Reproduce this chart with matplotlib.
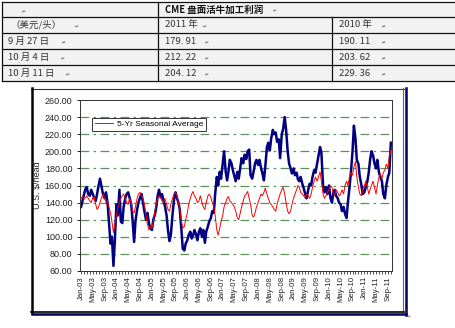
import matplotlib
matplotlib.use("Agg")
import matplotlib.pyplot as plt
import matplotlib.dates as mdates
import pandas as pd

# table contents
col_head = "CME 盘面活牛加工利润"
row_labels = ["（美元/头）", "9 月 27 日", "10 月 4 日", "10 月 11 日"]
col_2011 = ["2011 年", "179. 91", "212. 22", "204. 12"]
col_2010 = ["2010 年", "190. 11", "203. 62", "229. 36"]

# chart: semi-monthly profit values, Jan-03 .. Oct-11 (US $/head)
profit = [
    135, 142, 150, 156, 158, 150, 148, 155, 150, 146, 142, 150, 160, 168, 158, 150, 145, 152, 140, 118, 92, 100, 66, 95,
    138, 125, 155, 118, 116, 135, 145, 150, 152, 146, 138, 120, 94, 118, 132, 140, 146, 150, 140, 130, 120, 128, 116, 110,
    108, 120, 126, 135, 148, 155, 146, 150, 142, 136, 125, 108, 95, 102, 126, 142, 152, 146, 140, 132, 108, 86, 84, 92,
    96, 102, 106, 98, 101, 108, 103, 96, 106, 110, 100, 108, 93, 106, 112, 118, 122, 130, 128, 150, 170, 160, 176, 168,
    186, 200, 176, 166, 176, 190, 186, 178, 171, 165, 176, 168, 181, 192, 186, 196, 191, 200, 202, 172, 168, 176, 186, 190,
    184, 190, 180, 174, 166, 182, 205, 210, 201, 215, 225, 220, 222, 211, 214, 192, 220, 226, 240, 226, 200, 186, 180, 174,
    180, 172, 175, 167, 165, 170, 162, 157, 150, 145, 155, 162, 160, 170, 178, 175, 186, 195, 205, 198, 160, 152, 158, 150,
    160, 146, 140, 152, 155, 148, 145, 140, 138, 130, 135, 127, 122, 140, 158, 175, 200, 230, 215, 190, 185, 170, 161, 150,
    152, 158, 165, 175, 190, 200, 195, 186, 180, 190, 175, 170, 165, 150, 145, 160, 170, 175, 210,
]
seasonal = [
    145, 147, 144, 146, 148, 145, 142, 140, 145, 147, 138, 132, 135, 140, 146, 150, 145, 140, 142, 135, 128, 118, 105, 115,
    125, 135, 140, 145, 148, 150, 145, 140, 138, 145, 140, 130, 128, 135, 145, 150, 152, 148, 145, 138, 125, 115, 108, 112,
    110, 118, 130, 140, 145, 148, 146, 142, 140, 145, 138, 132, 130, 138, 145, 150, 152, 148, 140, 132, 118, 110, 112, 120,
    128, 138, 145, 150, 153, 148, 145, 140, 142, 148, 140, 135, 132, 140, 148, 150, 146, 140, 135, 125, 108, 102, 110, 118,
    125, 135, 140, 145, 147, 142, 140, 138, 135, 130, 122, 120, 128, 135, 142, 148, 150, 153, 145, 138, 125, 123, 128, 135,
    140, 145, 150, 148, 152, 157, 150, 145, 140, 138, 135, 132, 130, 138, 145, 150, 155, 158, 150, 140, 130, 127, 130, 138,
    145, 150, 155, 160, 158, 152, 150, 148, 145, 150, 148, 145, 150, 158, 165, 170, 165, 170, 176, 165, 150, 145, 148, 152,
    155, 160, 158, 150, 148, 155, 152, 148, 150, 155, 150, 160, 165, 160, 170, 175, 172, 182, 188, 170, 158, 150, 148, 155,
    160, 165, 158, 150, 155, 160, 165, 158, 150, 160, 170, 173, 168, 175, 178, 185, 180, 195, 201,
]
dates = pd.date_range("2003-01-01", periods=len(profit), freq="SMS")

fig = plt.figure(figsize=(4.55, 3.28), dpi=100)

# background layer in pixel coordinates: table and chart frame
bg = fig.add_axes([0, 0, 1, 1], zorder=0)
bg.set_xlim(0, 455)
bg.set_ylim(328, 0)
bg.axis("off")

cjk = ["Noto Sans CJK SC", "DejaVu Sans"]
bg.fill_between([2, 455], 2, 81, color="#f2f2f2", lw=0)
for y in [2, 17, 33, 49, 65, 81]:
    bg.plot([2, 455], [y, y], color="#111111", lw=0.9)
bg.plot([2, 2], [2, 81], color="#111111", lw=0.9)
bg.plot([158, 158], [2, 81], color="#111111", lw=0.9)
bg.plot([332, 332], [17, 81], color="#111111", lw=0.9)

tcol = "#333333"
bg.text(165, 9.5, col_head, family=cjk, fontsize=6.8, fontweight="bold", va="center", color="#111111")
rows_y = [25, 41, 57, 73]
for i, y in enumerate(rows_y):
    x0 = 10 if i == 0 else 8
    bg.text(x0, y, row_labels[i], family=cjk, fontsize=6.8, va="center", color=tcol)
    bg.text(165, y, col_2011[i], family=cjk, fontsize=6.8, va="center", color=tcol)
    bg.text(339, y, col_2010[i], family=cjk, fontsize=6.8, va="center", color=tcol)

# paragraph marks
for x, y in [(22, 11), (75, 26), (62, 42), (61, 58), (66, 74), (273, 10),
             (203, 26), (205, 42), (205, 58), (205, 74),
             (382, 26), (382, 42), (382, 58), (382, 74), (407, 316)]:
    bg.text(x, y, "↵", fontsize=3.5, color="#555555", va="center")

# chart frame with shadow
bg.plot([31, 404], [88.5, 88.5], color="#333333", lw=0.8)
bg.plot([32, 32], [88, 313], color="black", lw=1.8)
bg.plot([403, 403], [88, 312], color="#666666", lw=0.8)
bg.plot([31, 404], [312, 312], color="black", lw=1.2)
bg.plot([405.5, 405.5], [88, 315], color="#000060", lw=1.8)
bg.plot([32, 406], [314.3, 314.3], color="#000060", lw=1.8)

# chart
ax = fig.add_axes([80 / 455, 57 / 328, 312 / 455, 171 / 328], zorder=1)
ax.plot(dates, profit, color="#000080", lw=1.8, zorder=2)
ax.plot(dates, seasonal, color="#ff0000", lw=0.7, zorder=3, label="5-Yr Seasonal Average")

ax.set_ylim(60, 260)
ax.set_xlim(pd.Timestamp("2002-12-21"), pd.Timestamp("2011-10-13"))
ax.set_yticks(range(60, 261, 20))
ax.set_yticklabels([f"{v:.2f}" for v in range(60, 261, 20)])
for v in range(80, 241, 20):
    ax.axhline(v, color="#5e8f5e", lw=0.9, dashes=(7, 3.5, 2, 3.5), zorder=1)

ax.xaxis.set_major_locator(mdates.MonthLocator(bymonth=(1, 5, 9)))
ax.xaxis.set_major_formatter(mdates.DateFormatter("%b-%y"))
ax.xaxis.set_minor_locator(mdates.MonthLocator())
ax.tick_params(axis="x", which="both", direction="out", length=2.2, width=0.6, color="#333333")
ax.tick_params(axis="x", which="major", labelsize=5.6, pad=1.5, labelrotation=90, labelcolor="#222222")
ax.tick_params(axis="y", direction="out", length=2.5, width=0.6, labelsize=6.5, pad=3, labelcolor="#222222")
for lab in ax.get_xticklabels() + ax.get_yticklabels():
    lab.set_family("Liberation Sans")
for s in ax.spines.values():
    s.set_color("#333333")
    s.set_linewidth(0.7)

ax.set_ylabel("U.S. $/head", fontsize=6.5, family="Liberation Sans", color="#222222")
ax.yaxis.set_label_coords(-0.122, 0.5)

leg = ax.legend(loc="upper left", bbox_to_anchor=(0.04, 0.895), fontsize=6, frameon=True,
                fancybox=False, edgecolor="black", handlelength=2.2, borderpad=0.3,
                borderaxespad=0, handletextpad=0.5)
leg.get_frame().set_linewidth(0.7)
for t in leg.get_texts():
    t.set_family("Liberation Sans")

fig.savefig("out.png", dpi=100)
